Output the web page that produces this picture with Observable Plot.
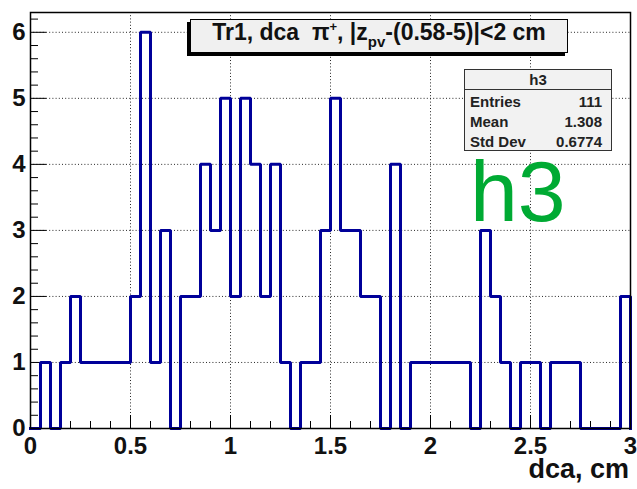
<!DOCTYPE html>
<html><head><meta charset="utf-8">
<script src="https://cdn.jsdelivr.net/npm/d3@7"></script>
<script src="https://cdn.jsdelivr.net/npm/@observablehq/plot@0.6"></script>
<style>
body{margin:0;background:#fff;}
#wrap{position:relative;width:637px;height:489px;font-family:"Liberation Sans",Arial,Helvetica,sans-serif;overflow:hidden;}
#wrap svg{position:absolute;left:0;top:0;}
.ov{position:absolute;white-space:nowrap;}
#titlebox{left:190px;top:19px;width:376px;height:32px;border:1px solid #000;background:#f0f0f0;box-shadow:-3px 3px 0 #000;
  font-weight:bold;font-size:23px;line-height:24px;text-align:center;color:#111;}
#titlebox .sup{font-size:13px;position:relative;top:-9px;}
#titlebox .sub{font-size:15px;position:relative;top:7px;}
#stats{left:464px;top:69px;width:146px;height:80px;border:1.3px solid #333;background:#f2f2f2;font-weight:bold;font-size:15px;color:#222;}
#stats .hdr{position:absolute;left:0;right:0;top:0;height:19px;border-bottom:1.3px solid #333;text-align:center;line-height:20px;}
#stats .lab{position:absolute;left:5px;line-height:16px;}
#stats .val{position:absolute;right:9px;line-height:16px;}
#bigname{left:470px;top:162px;font-size:86px;line-height:58px;color:#00aa33;}
#xlab{right:8px;top:459px;font-weight:bold;font-size:27px;line-height:20px;color:#111;}
</style></head><body><div id="wrap"></div>
<script>
// ---- data ----
const binStart = 0;
const binWidth = 0.05;
const counts = [0,1,0,1,2,1,1,1,1,1,
                2,6,1,3,0,2,2,4,3,5,
                2,5,4,2,4,1,0,1,1,3,
                5,3,3,2,2,0,4,0,1,1,
                1,1,1,1,0,3,2,1,0,1,
                1,0,1,1,1,0,0,0,0,2];
const xMajor = [0, 0.5, 1, 1.5, 2, 2.5, 3];
const xMinor = [0.1,0.2,0.3,0.4,0.6,0.7,0.8,0.9,1.1,1.2,1.3,1.4,1.6,1.7,1.8,1.9,2.1,2.2,2.3,2.4,2.6,2.7,2.8,2.9];
const yMajor = [0, 1, 2, 3, 4, 5, 6];
const yMinor = [0.2,0.4,0.6,0.8,1.2,1.4,1.6,1.8,2.2,2.4,2.6,2.8,3.2,3.4,3.6,3.8,4.2,4.4,4.6,4.8,5.2,5.4,5.6,5.8,6.2];
const xDomain = [0, 3];
const yDomain = [0, 6.3];
const xLabel = "dca, cm";
const histName = "h3";
const statLabels = ["Entries", "Mean", "Std Dev"];
const statValues = ["111", "1.308", "0.6774"];

// ---- layout ----
const W = 637, H = 489;
const mL = 30, mR = 7, mT = 12, mB = 61;
const plotW = W - mL - mR, plotH = H - mT - mB;

// outline of the histogram built from the bins
const outline = [{x: binStart, y: 0}];
counts.forEach((v, i) => {
  outline.push({x: binStart + i * binWidth, y: v});
  outline.push({x: binStart + (i + 1) * binWidth, y: v});
});
outline.push({x: binStart + counts.length * binWidth, y: 0});

const black = "#000";
const chart = Plot.plot({
  width: W, height: H,
  marginLeft: mL, marginRight: mR, marginTop: mT, marginBottom: mB,
  style: {fontFamily: "'Liberation Sans', Arial, Helvetica, sans-serif", background: "white", color: "#111"},
  x: {domain: xDomain},
  y: {domain: yDomain},
  marks: [
    Plot.gridX(xMajor, {stroke: black, strokeOpacity: 0.85, strokeDasharray: "1,2.2"}),
    Plot.gridY(yMajor, {stroke: black, strokeOpacity: 0.85, strokeDasharray: "1,2.2"}),
    Plot.ruleX(xMajor, {stroke: black, insetTop: plotH - 13}),
    Plot.ruleX(xMinor, {stroke: black, insetTop: plotH - 7}),
    Plot.ruleY(yMajor, {stroke: black, insetRight: plotW - 16}),
    Plot.ruleY(yMinor, {stroke: black, insetRight: plotW - 8}),
    Plot.line(outline, {x: "x", y: "y", stroke: "#000099", strokeWidth: 3, strokeLinejoin: "miter", strokeLinecap: "square"}),
    Plot.frame({stroke: black, strokeWidth: 1.5}),
    Plot.axisX(xMajor, {tickSize: 0, tickPadding: 8, fontSize: 24, fontWeight: "bold", label: null, tickFormat: d => String(d)}),
    Plot.axisY(yMajor, {tickSize: 0, tickPadding: 5, fontSize: 24, fontWeight: "bold", label: null, tickFormat: d => String(d)})
  ]
});

const wrap = document.getElementById("wrap");
wrap.appendChild(chart);

// title box
const tb = document.createElement("div");
tb.className = "ov"; tb.id = "titlebox";
tb.innerHTML = 'Tr1, dca&nbsp; π<span class="sup">+</span>, |z<span class="sub">pv</span>-(0.58-5)|&lt;2 cm';
wrap.appendChild(tb);

// stats box
const sb = document.createElement("div");
sb.className = "ov"; sb.id = "stats";
let html = `<div class="hdr">${histName}</div>`;
statLabels.forEach((l, i) => {
  const top = 24 + i * 20;
  html += `<div class="lab" style="top:${top}px">${l}</div><div class="val" style="top:${top}px">${statValues[i]}</div>`;
});
sb.innerHTML = html;
wrap.appendChild(sb);

// large histogram name
const bn = document.createElement("div");
bn.className = "ov"; bn.id = "bigname"; bn.textContent = histName;
wrap.appendChild(bn);

// x axis title
const xl = document.createElement("div");
xl.className = "ov"; xl.id = "xlab"; xl.textContent = xLabel;
wrap.appendChild(xl);
</script>
</body></html>
